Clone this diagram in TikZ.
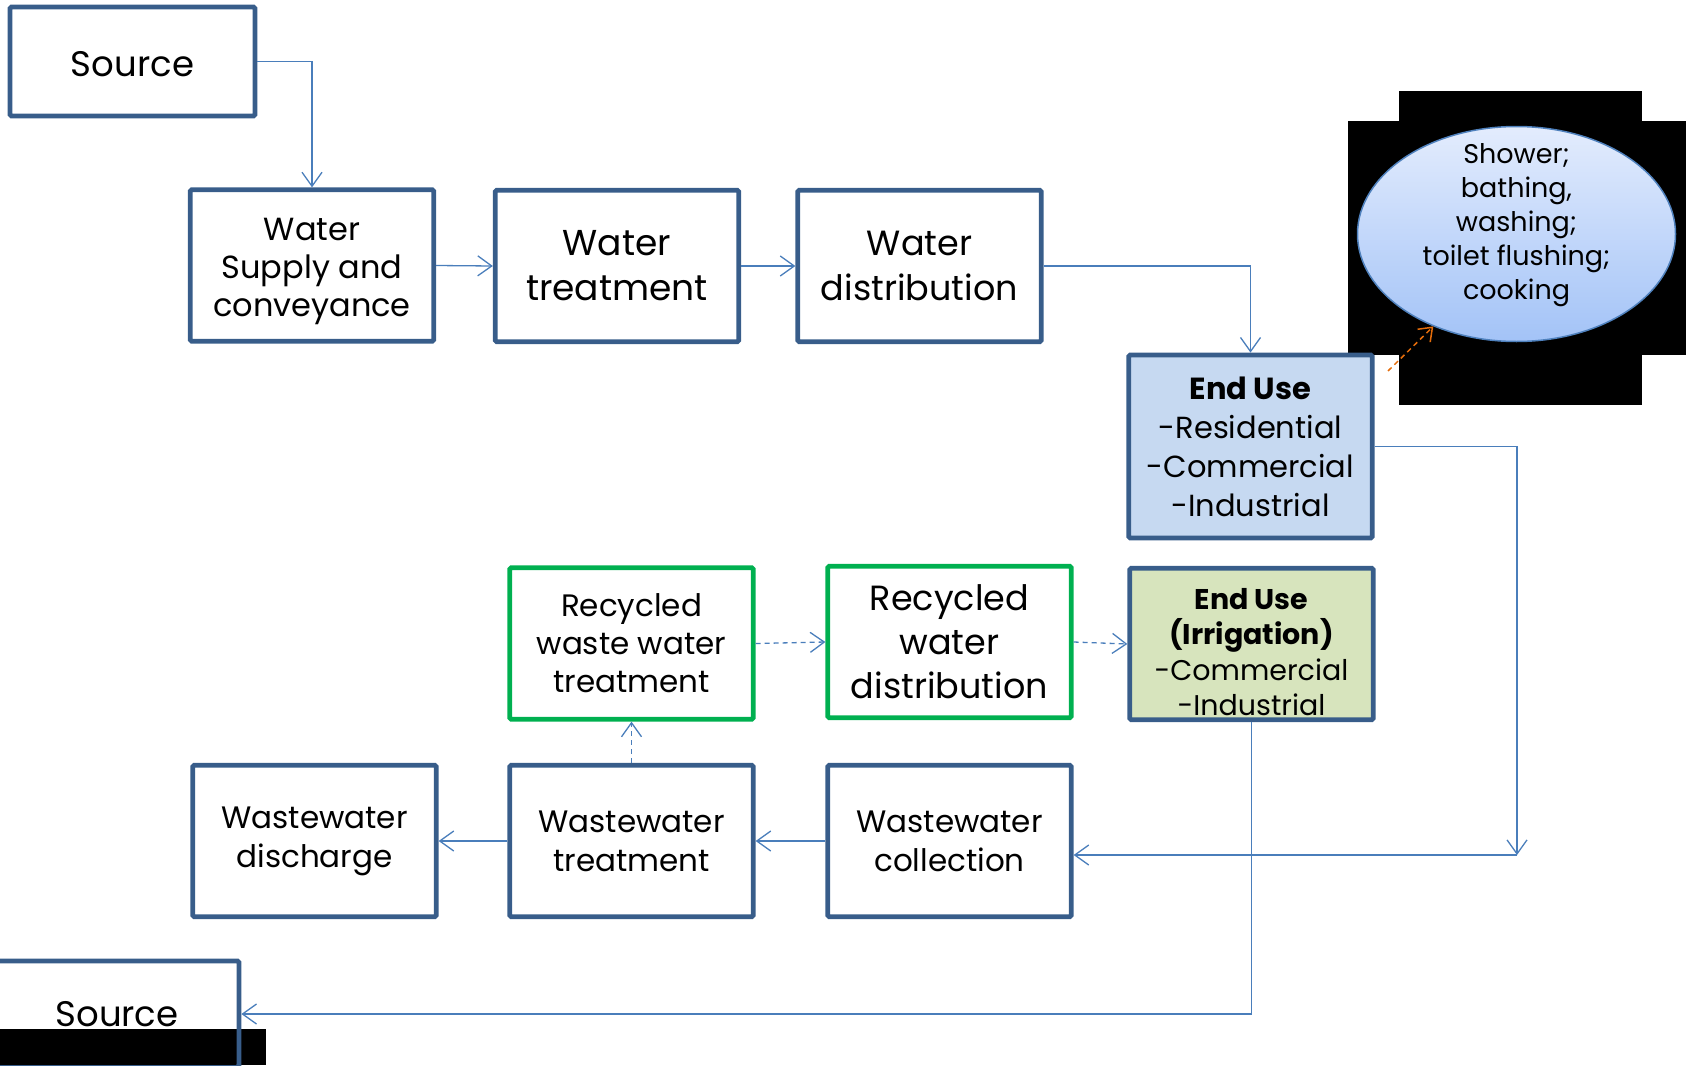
\documentclass[tikz,border=0pt]{standalone}
\usepackage{fontspec}
\setmainfont{Poppins}
\usetikzlibrary{arrows.meta,shapes.geometric}
\definecolor{boxblue}{HTML}{385D8A}
\definecolor{lineblue}{HTML}{4A7EBB}
\definecolor{boxgreen}{HTML}{00B050}
\definecolor{eufill}{HTML}{C6D9F1}
\definecolor{euifill}{HTML}{D7E4BD}
\definecolor{elltop}{HTML}{E3ECFD}
\definecolor{ellbot}{HTML}{A3C3F7}
\definecolor{ellborder}{HTML}{4F81BD}
\definecolor{arrorange}{HTML}{E46C0A}
\tikzset{
  box/.style={draw=boxblue, line width=4.8pt, rectangle, rounded corners=1.5pt,
    align=center, inner sep=0pt, minimum width=243.5pt, minimum height=151.5pt, text=black},
  gbox/.style={box, draw=boxgreen},
  txt/.style={align=center, inner sep=0pt, text=black},
  arr/.style={draw=lineblue, line width=1.3pt, -{Straight Barb[length=14pt,width=20pt,line width=1.3pt]}},
  darr/.style={arr, dash pattern=on 5pt off 4pt},
  oarr/.style={draw=arrorange, line width=1.5pt, dash pattern=on 5pt off 4pt,
    -{Straight Barb[length=12pt,width=18pt,line width=1.5pt]}},
}
\newcommand\fs[2]{\fontsize{#1}{#2}\selectfont}
\begin{document}
\begin{tikzpicture}[x=1pt,y=-1pt]
\useasboundingbox (0,0) rectangle (1691,1065);
% black backgrounds
\fill[black] (1399,91) rectangle (1642,405);
\fill[black] (1348,121) rectangle (1686,355);
\fill[black] (0,1029) rectangle (266,1065);

% nodes
\node[box, minimum width=245pt, minimum height=109pt] (src1) at (132.5,61.5) {};
\node[txt, font=\fs{35.5}{40}] (src1t) at (132.5,64) {Source};
\node[box] (ws) at (312,265.5) {};
\node[txt, font=\fs{32}{38}] (wst) at (312,271) {Water\\Supply and\\conveyance};
\node[box, font=\fs{36}{45}] (wt) at (617,266) {Water\\treatment};
\node[box, font=\fs{35}{45}] (wd) at (919.5,266) {Water\\distribution};
\node[box, fill=eufill, minimum height=183pt, font=\fs{30.5}{39}] (eu) at (1250.5,446.5) {\textbf{End Use}\\-Residential\\-Commercial\\-Industrial};
\node[ellipse, draw=ellborder, line width=1.5pt, top color=elltop, bottom color=ellbot,
  minimum width=318pt, minimum height=215pt, inner sep=0pt] (ell) at (1516.5,234) {};
\node[txt, font=\fs{27}{34}] (ellt) at (1516.5,225)
  {Shower;\\bathing,\\washing;\\toilet flushing;\\cooking};
\node[gbox, font=\fs{31}{38}] (rwt) at (631.5,643.5) {Recycled\\waste water\\treatment};
\node[gbox, font=\fs{35}{44}] (rwd) at (949.5,642) {Recycled\\water\\distribution};
\node[box, fill=euifill] (eui) at (1251.5,644) {};
\node[txt, font=\fs{28.5}{35.5}] (euit) at (1251.5,652) {\textbf{End Use}\\\textbf{(Irrigation)}\\-Commercial\\-Industrial};
\node[box, font=\fs{31}{39}] (wdis) at (314.5,841) {Wastewater\\discharge};
\node[box, font=\fs{31}{39}] (wtr) at (631.5,841) {Wastewater\\treatment};
\node[box, font=\fs{31}{39}] (wcol) at (949.5,841) {Wastewater\\collection};
\node[box, minimum width=244pt, minimum height=106pt, font=\fs{35.5}{40}] (src2) at (117,1014) {Source};
\fill[black] (0,1029) rectangle (236,1065);

% connectors
\coordinate (j) at (1517,855);
\coordinate (o1) at (1388,371);
\draw[arr] (src1.east) -| (ws.north);
\draw[arr] (ws.east) -- (wt.west);
\draw[arr] (wt.east) -- (wd.west);
\draw[arr] (wd.east) -| (eu.north);
\draw[arr] (eu.east) -| (j);
\draw[arr] (j) -- (wcol.east |- j);
\draw[arr] (wcol.west) -- (wtr.east);
\draw[arr] (wtr.west) -- (wdis.east);
\draw[darr] (wtr.north) -- (rwt.south);
\draw[darr] (rwt.east) -- (rwd.west);
\draw[darr] (rwd.east) -- (eui.west);
\draw[arr] (eui.south) |- (src2.east);
\draw[oarr] (o1) -- (ell.228);
\end{tikzpicture}
\end{document}
